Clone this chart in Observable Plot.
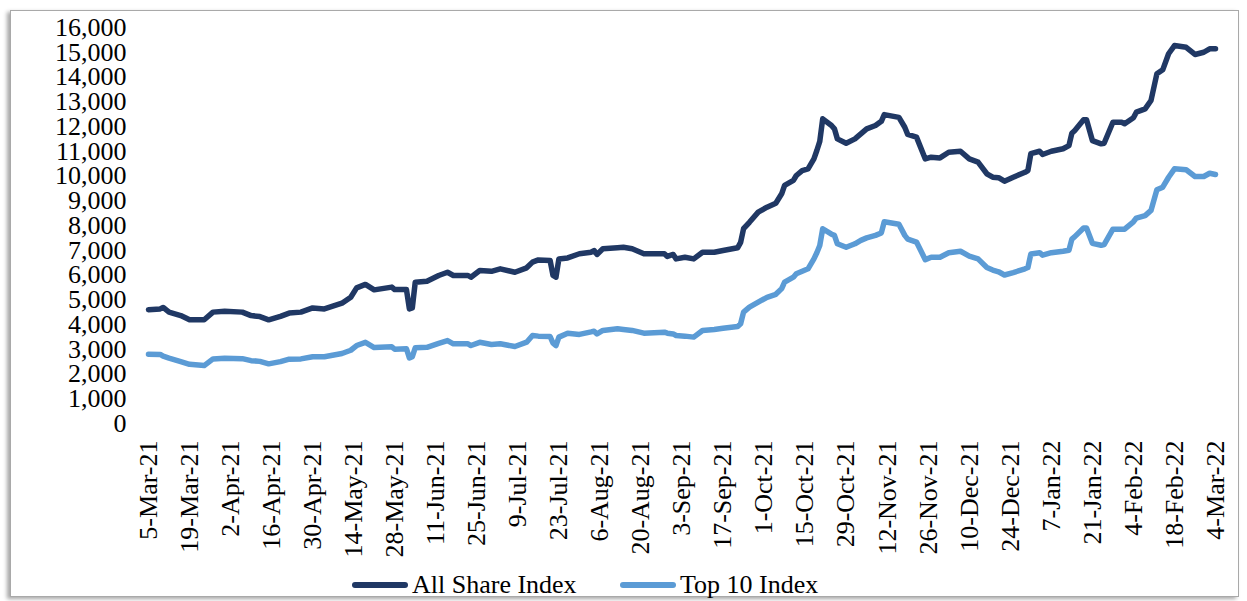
<!DOCTYPE html>
<html>
<head>
<meta charset="utf-8">
<script src="https://cdn.jsdelivr.net/npm/d3@7"></script>
<script src="https://cdn.jsdelivr.net/npm/@observablehq/plot@0.6"></script>
<style>
  html, body { margin: 0; padding: 0; background: #fff; }
  body { width: 1247px; height: 601px; position: relative; overflow: hidden; font-family: "Liberation Serif", "Times New Roman", serif; }
  #frame { position: absolute; left: 10px; top: 10px; width: 1229px; height: 587px; border: 1px solid #a9a9a9; box-shadow: -3px 2px 4px rgba(0,0,0,0.35); box-sizing: border-box; }
  #chart { position: absolute; left: 0; top: 0; }
  #legend { position: absolute; top: 568px; left: 0; width: 1247px; height: 34px; font-size: 26px; color: #000; }
  .item { position: absolute; top: 0; display: flex; align-items: center; height: 34px; }
  .swatch { display: inline-block; width: 56px; height: 6px; border-radius: 3px; margin-right: 4px; }
</style>
</head>
<body>
<div id="frame"></div>
<div id="chart"></div>
<div id="legend"></div>
<script>
const dates = [
  "2021-03-05","2021-03-09","2021-03-10","2021-03-12","2021-03-16","2021-03-19","2021-03-24","2021-03-27","2021-03-31",
  "2021-04-06","2021-04-09","2021-04-12","2021-04-15","2021-04-19","2021-04-22","2021-04-26","2021-04-30",
  "2021-05-04","2021-05-10","2021-05-13","2021-05-15","2021-05-18","2021-05-21","2021-05-27","2021-05-28",
  "2021-06-01","2021-06-02","2021-06-03","2021-06-04","2021-06-08","2021-06-12","2021-06-15","2021-06-17","2021-06-22","2021-06-23","2021-06-26","2021-06-30",
  "2021-07-03","2021-07-08","2021-07-12","2021-07-14","2021-07-16","2021-07-20","2021-07-21","2021-07-22","2021-07-23","2021-07-26","2021-07-30",
  "2021-08-03","2021-08-04","2021-08-05","2021-08-07","2021-08-12","2021-08-14","2021-08-17","2021-08-21","2021-08-28","2021-08-29","2021-08-31",
  "2021-09-01","2021-09-04","2021-09-07","2021-09-10","2021-09-14","2021-09-17","2021-09-22","2021-09-23","2021-09-24","2021-09-26","2021-09-29",
  "2021-10-02","2021-10-05","2021-10-07","2021-10-08","2021-10-11","2021-10-12","2021-10-14","2021-10-16","2021-10-18","2021-10-19","2021-10-20","2021-10-21","2021-10-24","2021-10-25","2021-10-26","2021-10-29",
  "2021-11-01","2021-11-03","2021-11-05","2021-11-08","2021-11-10","2021-11-11","2021-11-16","2021-11-18","2021-11-19","2021-11-22","2021-11-25","2021-11-27","2021-11-30",
  "2021-12-03","2021-12-07","2021-12-10","2021-12-13","2021-12-16","2021-12-18","2021-12-20","2021-12-22","2021-12-25","2021-12-29","2021-12-30","2021-12-31",
  "2022-01-03","2022-01-04","2022-01-07","2022-01-11","2022-01-13","2022-01-14","2022-01-15","2022-01-18","2022-01-19","2022-01-21","2022-01-24","2022-01-25","2022-01-28","2022-01-31",
  "2022-02-01","2022-02-04","2022-02-05","2022-02-08","2022-02-10","2022-02-12","2022-02-14","2022-02-16","2022-02-18","2022-02-22","2022-02-25","2022-02-28",
  "2022-03-02","2022-03-04"
];
const allShare = [
  4600,4630,4690,4500,4360,4190,4190,4500,4540,
  4500,4360,4320,4190,4330,4460,4500,4670,
  4630,4860,5100,5480,5620,5400,5510,5410,
  5410,4630,4670,5710,5750,5980,6110,5980,5980,5910,6180,6150,
  6250,6110,6290,6520,6610,6590,5980,5910,6650,6690,6860,
  6920,6990,6830,7060,7100,7120,7060,6860,6860,6750,6830,
  6650,6720,6650,6920,6920,6990,7100,7320,7870,8130,8540,
  8740,8900,9280,9620,9820,10020,10220,10290,10690,11030,11400,12310,12040,11905,11500,11325,
  11500,11700,11905,12040,12210,12480,12370,11970,11680,11570,10690,10760,10730,
  10960,11000,10690,10560,10090,9950,9930,9790,9950,10150,10220,10900,
  11000,10870,11000,11100,11230,11730,11840,12270,12270,11430,11300,11325,12170,12170,
  12110,12350,12580,12710,13050,14130,14290,14940,15270,15200,14910,15000,
  15140,15140
];
const top10 = [
  2800,2790,2720,2640,2500,2390,2340,2610,2640,
  2620,2540,2510,2410,2500,2600,2610,2700,
  2700,2830,2960,3150,3280,3070,3100,3000,
  3020,2650,2700,3060,3080,3240,3350,3220,3220,3150,3280,3190,
  3220,3110,3285,3555,3530,3515,3245,3150,3490,3650,3600,
  3700,3730,3620,3760,3825,3800,3760,3650,3690,3650,3620,
  3555,3530,3490,3760,3800,3850,3920,4030,4500,4700,4900,
  5100,5220,5450,5710,5910,6050,6150,6250,6650,6900,7190,7870,7650,7600,7260,7120,
  7260,7400,7500,7600,7700,8150,8050,7600,7450,7330,6620,6720,6720,
  6900,6960,6760,6650,6300,6200,6130,6000,6100,6250,6300,6850,
  6900,6800,6900,6960,7000,7450,7550,7900,7900,7280,7200,7230,7850,7850,
  7850,8150,8300,8400,8610,9440,9550,9950,10290,10250,9980,9980,
  10110,10060
];
const tickDates = [
  "2021-03-05","2021-03-19","2021-04-02","2021-04-16","2021-04-30","2021-05-14","2021-05-28",
  "2021-06-11","2021-06-25","2021-07-09","2021-07-23","2021-08-06","2021-08-20","2021-09-03",
  "2021-09-17","2021-10-01","2021-10-15","2021-10-29","2021-11-12","2021-11-26","2021-12-10",
  "2021-12-24","2022-01-07","2022-01-21","2022-02-04","2022-02-18","2022-03-04"
];
const yTicks = [0,1000,2000,3000,4000,5000,6000,7000,8000,9000,10000,11000,12000,13000,14000,15000,16000];
const seriesNames = ["All Share Index", "Top 10 Index"];
const seriesColors = ["#203864", "#5B9BD5"];

const parse = d3.utcParse("%Y-%m-%d");
const rows = dates.map((d, i) => ({date: parse(d), all: allShare[i], top: top10[i]}));
const fmtDate = d3.utcFormat("%-d-%b-%y");

const chart = Plot.plot({
  width: 1247,
  height: 560,
  marginLeft: 148,
  marginRight: 32,
  marginTop: 27,
  marginBottom: 137,
  style: {fontFamily: "'Liberation Serif', 'Times New Roman', serif", fontSize: "26px", background: "transparent", color: "#000", overflow: "visible"},
  x: {type: "utc", domain: [parse(tickDates[0]), parse(tickDates[tickDates.length - 1])], ticks: tickDates.map(parse), tickFormat: fmtDate, tickRotate: -90, tickSize: 0, tickPadding: 17, label: null},
  y: {domain: [0, 16000], ticks: yTicks, tickFormat: d3.format(","), tickSize: 0, tickPadding: 22, label: null},
  marks: [
    Plot.line(rows, {x: "date", y: "all", stroke: seriesColors[0], strokeWidth: 5.5, strokeLinejoin: "round", strokeLinecap: "round"}),
    Plot.line(rows, {x: "date", y: "top", stroke: seriesColors[1], strokeWidth: 5.5, strokeLinejoin: "round", strokeLinecap: "round"})
  ]
});
document.getElementById("chart").appendChild(chart);

const legend = document.getElementById("legend");
const lefts = [352, 620];
seriesNames.forEach((name, i) => {
  const item = document.createElement("div");
  item.className = "item";
  item.style.left = lefts[i] + "px";
  const sw = document.createElement("span");
  sw.className = "swatch";
  sw.style.background = seriesColors[i];
  const tx = document.createElement("span");
  tx.textContent = name;
  item.appendChild(sw);
  item.appendChild(tx);
  legend.appendChild(item);
});
</script>
</body>
</html>
